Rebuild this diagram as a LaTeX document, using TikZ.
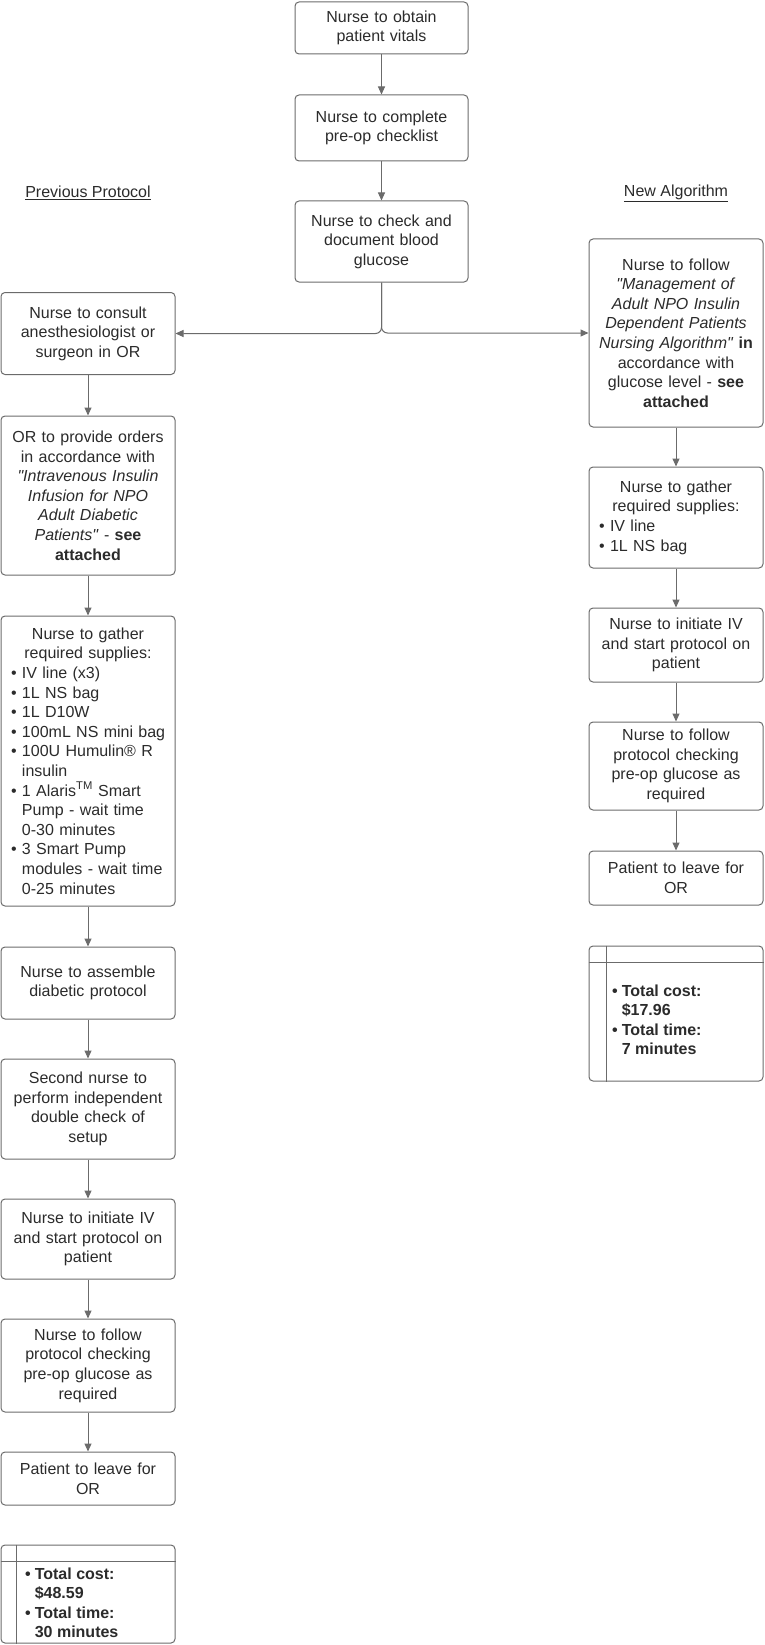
\documentclass[tikz,border=0pt]{standalone}
\usepackage{fontspec}
\setmainfont{Liberation Sans}
\usepackage{xcolor}
\usepackage{tikz}
\usetikzlibrary{arrows.meta}
\definecolor{linegray}{HTML}{6B6B6B}
\definecolor{textgray}{HTML}{2B2B2B}
\newlength{\lstw}
\setlength{\lstw}{154pt}
\newcommand{\itm}[1]{\makebox[\lstw][l]{\makebox[11pt][l]{\textbullet}#1}}
\newcommand{\cnt}[1]{\makebox[\lstw][l]{\hspace*{11pt}#1}}

\begin{document}
\begin{tikzpicture}[x=1pt,y=-1pt,
  every node/.style={font=\fontsize{16}{19.6}\selectfont,text=textgray},
  box/.style={draw=linegray,line width=1pt,rounded corners=4pt,align=center,inner xsep=8pt,inner ysep=0pt,text width=158pt},
  link/.style={draw=linegray,line width=1pt,-{Triangle[length=8pt,width=7pt]}},
  divider/.style={draw=linegray,line width=1pt}]
        \useasboundingbox (0,0) rectangle (764,1645);
        \node[box,text width=157pt,minimum height=52pt] (vitals) at (381.5,28) {Nurse to obtain\\patient vitals};
        \node[box,text width=157pt,minimum height=66pt] (checklist) at (381.5,128) {Nurse to complete\\pre-op checklist};
        \node[box,text width=157pt,minimum height=81pt] (glucose) at (381.5,241.5) {Nurse to check and\\document blood\\glucose};
        \node (prevlabel) at (88,193) {\underline{Previous Protocol}};
        \node (newlabel) at (676,193) {\underline{New Algorithm}};
        % previous protocol
        \node[box,minimum height=82pt] (consult) at (88,333.5) {Nurse to consult\\anesthesiologist or\\surgeon in OR};
        \node[box,minimum height=159pt] (orders) at (88,495.5) {OR to provide orders\\in accordance with\\\textit{\textquotedbl Intravenous Insulin}\\\textit{Infusion for NPO}\\\textit{Adult Diabetic}\\\textit{Patients\textquotedbl} - \textbf{see}\\\textbf{attached}};
        \node[box,minimum height=290pt] (prevsupplies) at (88,761) {Nurse to gather\\required supplies:\\\itm{IV line (x3)}\\\itm{1L NS bag}\\\itm{1L D10W}\\\itm{100mL NS mini bag}\\\itm{100U Humulin® R}\\\cnt{insulin}\\\itm{1 Alaris\textsuperscript{TM} Smart}\\\cnt{Pump - wait time}\\\cnt{0-30 minutes}\\\itm{3 Smart Pump}\\\cnt{modules - wait time}\\\cnt{0-25 minutes}};
        \node[box,minimum height=72pt] (assemble) at (88,983) {Nurse to assemble\\diabetic protocol};
        \node[box,minimum height=100pt] (doublecheck) at (88,1109) {Second nurse to\\perform independent\\double check of\\setup};
        \node[box,minimum height=80pt] (previnit) at (88,1239) {Nurse to initiate IV\\and start protocol on\\patient};
        \node[box,minimum height=93pt] (prevfollow) at (88,1365.5) {Nurse to follow\\protocol checking\\pre-op glucose as\\required};
        \node[box,minimum height=53pt] (prevleave) at (88,1478.5) {Patient to leave for\\OR};
        \node[box,minimum height=98pt] (prevtotal) at (88,1594) {};
        \draw[divider] ([xshift=16pt]prevtotal.north west) -- ([xshift=16pt]prevtotal.south west);
        \draw[divider] ([yshift=-17pt]prevtotal.north west) -- ([yshift=-17pt]prevtotal.north east);
        \node[anchor=west,inner sep=0pt,font=\fontsize{16}{19.6}\selectfont\bfseries] (prevtotaltext) at (25,1604.5) {\begin{tabular}{@{}l@{\hspace{4pt}}l@{}}\textbullet & Total cost:\\ & \$48.59\\ \textbullet & Total time:\\ & 30 minutes\end{tabular}};
        % new algorithm
        \node[box,minimum height=188pt] (newfollow) at (676,333) {Nurse to follow\\\textit{\textquotedbl Management of}\\\textit{Adult NPO Insulin}\\\textit{Dependent Patients}\\\textit{Nursing Algorithm\textquotedbl} \textbf{in}\\accordance with\\glucose level - \textbf{see}\\\textbf{attached}};
        \node[box,minimum height=101pt] (newsupplies) at (676,517.5) {Nurse to gather\\required supplies:\\\itm{IV line}\\\itm{1L NS bag}};
        \node[box,minimum height=74pt] (newinit) at (676,645) {Nurse to initiate IV\\and start protocol on\\patient};
        \node[box,minimum height=88pt] (newcheck) at (676,766) {Nurse to follow\\protocol checking\\pre-op glucose as\\required};
        \node[box,minimum height=54pt] (newleave) at (676,878) {Patient to leave for\\OR};
        \node[box,minimum height=135pt] (newtotal) at (676,1013.5) {};
        \draw[divider] ([xshift=18pt]newtotal.north west) -- ([xshift=18pt]newtotal.south west);
        \draw[divider] ([yshift=-17pt]newtotal.north west) -- ([yshift=-17pt]newtotal.north east);
        \node[anchor=west,inner sep=0pt,font=\fontsize{16}{19.6}\selectfont\bfseries] (newtotaltext) at (612,1021.5) {\begin{tabular}{@{}l@{\hspace{4pt}}l@{}}\textbullet & Total cost:\\ & \$17.96\\ \textbullet & Total time:\\ & 7 minutes\end{tabular}};
        % connectors
        \draw[link] (vitals) -- (checklist);
        \draw[link] (checklist) -- (glucose);
        \draw[link,rounded corners=6pt] (glucose.south) |- (consult.east);
        \draw[link,rounded corners=6pt] (glucose.south) |- (newfollow.west);
        \draw[link] (consult) -- (orders);
        \draw[link] (orders) -- (prevsupplies);
        \draw[link] (prevsupplies) -- (assemble);
        \draw[link] (assemble) -- (doublecheck);
        \draw[link] (doublecheck) -- (previnit);
        \draw[link] (previnit) -- (prevfollow);
        \draw[link] (prevfollow) -- (prevleave);
        \draw[link] (newfollow) -- (newsupplies);
        \draw[link] (newsupplies) -- (newinit);
        \draw[link] (newinit) -- (newcheck);
        \draw[link] (newcheck) -- (newleave);
    \end{tikzpicture}
\end{document}
